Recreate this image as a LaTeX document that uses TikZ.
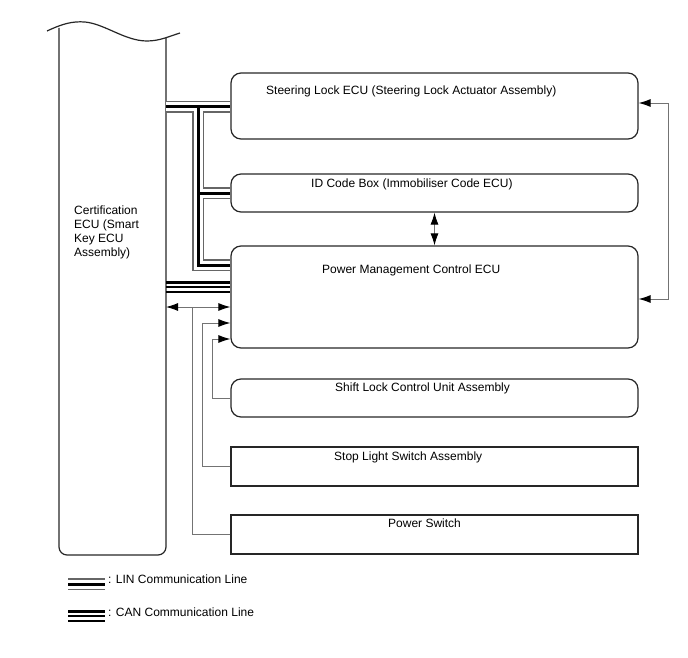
\documentclass[tikz,border=0pt]{standalone}
\usepackage{fontspec}
\setmainfont{Liberation Sans}
\usetikzlibrary{arrows.meta}
\begin{document}
\begin{tikzpicture}[x=1pt, y=-1pt, >={Latex[length=12pt,width=8pt,color=black]},
  box/.style={draw=black!85, line width=1.2pt, rounded corners=10pt, minimum width=407pt},
  sqbox/.style={box, sharp corners, line width=1.1pt},
  lbl/.style={inner sep=0pt, anchor=base west, font=\fontsize{12}{14}\selectfont},
  sig/.style={draw=black!55, line width=0.9pt},
  linbus/.style={line width=3pt, preaction={draw=black!60, line width=11.2pt}, preaction={draw=white, line width=9pt}},
  canbus/.style={line width=3pt, postaction={draw, line width=1.3pt, transform canvas={yshift=-5pt}}, postaction={draw, line width=1.3pt, transform canvas={yshift=-10pt}}}]
\useasboundingbox (0,0) rectangle (688,658);
% Certification ECU
\draw[draw=black!85, line width=1.2pt, rounded corners=8pt] (59,28) -- (59,555) -- (166,555) -- (166,38);
\draw[draw=black!85, line width=1.2pt] (47,31) .. controls (62,24) and (72,21) .. (85,22) .. controls (105,24) and (125,41) .. (147,41) .. controls (160,41) and (170,36) .. (180,33);
\coordinate (certE) at (166,300);
\node[lbl, align=left, anchor=north west] (cert) at (74,206) {Certification\\ECU (Smart\\Key ECU\\Assembly)};
% ECUs
\node[box, minimum height=66pt] (steer) at (434.5,106) {};
\node[box, minimum height=38pt] (id) at (434.5,193) {};
\node[box, minimum height=102pt] (pm) at (434.5,297) {};
\node[box, minimum height=38pt] (shift) at (434.5,398) {};
\node[sqbox, minimum height=39pt] (stop) at (434.5,466.5) {};
\node[sqbox, minimum height=39pt] (psw) at (434.5,534.5) {};
\node[lbl] (steerT) at (266,95) {Steering Lock ECU (Steering Lock Actuator Assembly)};
\node[lbl] (idT) at (311,187) {ID Code Box (Immobiliser Code ECU)};
\node[lbl] (pmT) at (322,273) {Power Management Control ECU};
\node[lbl] (shiftT) at (335,391) {Shift Lock Control Unit Assembly};
\node[lbl] (stopT) at (334,460) {Stop Light Switch Assembly};
\node[lbl] (pswT) at (388,527) {Power Switch};
% LIN
\coordinate (lin1) at (198,107);
\draw[linbus] (certE |- lin1) -- (steer.west |- lin1)
  (lin1) |- (pm.west |- 0,265)
  (lin1 |- id.west) -- (id.west);
% CAN
\draw[canbus] (certE |- 0,282) -- (pm.west |- 0,282);
% signals
\coordinate (psjoin) at (192,307);
\draw[sig, <->] (certE |- psjoin) -- (pm.west |- psjoin);
\draw[sig] (psw.west) -| (psjoin);
\draw[sig, ->] (stop.west) -| (202,323) -- (pm.west |- 0,323);
\draw[sig, ->] (shift.west) -| (212,339) -- (pm.west |- 0,339);
\draw[sig, <->] (id.south) -- (pm.north);
\draw[sig, <->] ([yshift=3pt]steer.east) -- ++(30,0) |- ([yshift=-2pt]pm.east);
% legend
\draw[linbus] (68,584) -- (105,584);
\node[lbl] (linT) at (108,583) {: LIN Communication Line};
\draw[canbus] (68,611) -- (105,611);
\node[lbl] (canT) at (108,616) {: CAN Communication Line};
\end{tikzpicture}
\end{document}
